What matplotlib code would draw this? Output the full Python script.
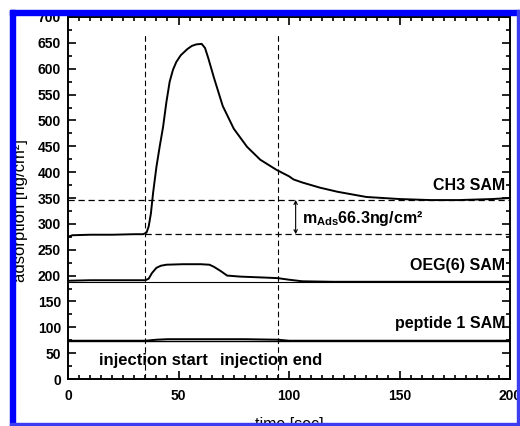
import matplotlib
matplotlib.use("Agg")
import matplotlib.pyplot as plt
from matplotlib.patches import Rectangle

plt.rcParams['font.family'] = ['Liberation Sans', 'DejaVu Sans']
plt.rcParams['font.weight'] = 'bold'
plt.rcParams['mathtext.fontset'] = 'custom'
plt.rcParams['mathtext.rm'] = 'Liberation Sans:bold'
plt.rcParams['mathtext.it'] = 'Liberation Sans:bold'

# CH3 SAM curve
ch3_t = [0, 2, 10, 20, 30, 34, 35.5, 36.5, 37.5, 38.5, 40, 41.5, 43, 44.5, 46, 47.5, 49, 51,
         54, 56, 58, 60.5, 62, 63.5, 66, 70, 75, 81, 87, 94.5, 100, 102, 106, 114, 122,
         135, 150, 164, 177, 192, 200]
ch3_y = [275, 278, 279, 279, 280, 280, 283, 295, 320, 360, 410, 450, 487, 535, 575, 598, 613, 626,
         638, 644, 647, 648, 640, 620, 583, 528, 484, 449, 424, 404, 392, 386, 380, 370, 362,
         352, 348, 346, 346, 348, 350]

# OEG(6) SAM curve
oeg_t = [0, 10, 30, 35, 36.5, 38, 40, 42, 44.5, 52, 60, 64, 66, 69, 72, 78, 84,
         90, 95, 100, 106, 120, 150, 200]
oeg_y = [190, 191, 191, 191, 194, 205, 215, 219, 221, 222, 222, 221, 217, 209, 200, 198, 197,
         196, 195, 192, 189, 188, 188, 188]
oeg_base = 187

# peptide 1 SAM curve
pep_t = [0, 35, 40, 45, 60, 80, 95, 100, 200]
pep_y = [74, 74, 76, 77, 77, 77, 76, 74, 74]
pep_base = 74

# markers
inj_start = 35
inj_end = 95
level_before = 280
level_after = 346.3
mads_text = r"m$_{\rm Ads}$66.3ng/cm²"

fig = plt.figure(figsize=(5.2, 4.26), dpi=100)
ax = fig.add_axes([0.1308, 0.1103, 0.85, 0.8498])

ax.plot(ch3_t, ch3_y, color="black", lw=1.4)
ax.plot(oeg_t, oeg_y, color="black", lw=1.4)
ax.axhline(oeg_base, color="black", lw=0.8)
ax.plot(pep_t, pep_y, color="black", lw=1.4)
ax.axhline(pep_base, color="black", lw=1.0)

# injection markers
for xv in [inj_start, inj_end]:
    ax.plot([xv, xv], [0, 670], color="black", lw=0.8, ls=(0, (5, 3)))
ax.axhline(level_after, color="black", lw=0.9, ls=(0, (5, 3)))
ax.plot([inj_start, 200], [level_before, level_before], color="black", lw=0.9, ls=(0, (5, 3)))

ax.annotate("", xy=(103, level_after), xytext=(103, level_before),
            arrowprops=dict(arrowstyle="<->", color="black", lw=0.8,
                            shrinkA=0, shrinkB=0, mutation_scale=6))
ax.text(106, 311, mads_text, fontsize=11.5, va="center", ha="left")

ax.text(198, 375, "CH3 SAM", fontsize=11.5, ha="right", va="center")
ax.text(198, 220, "OEG(6) SAM", fontsize=11.5, ha="right", va="center")
ax.text(198, 108, "peptide 1 SAM", fontsize=11.5, ha="right", va="center")
ax.text(38.5, 35, "injection start", fontsize=12, ha="center", va="center")
ax.text(92, 35, "injection end", fontsize=12, ha="center", va="center")

ax.set_xlim(0, 200)
ax.set_ylim(0, 700)
ax.set_xticks(range(0, 201, 50))
ax.set_xticks(range(0, 201, 5), minor=True)
ax.set_yticks(range(0, 701, 50))
ax.set_yticks(range(0, 701, 25), minor=True)
ax.tick_params(which="both", direction="in", top=True, right=True, width=1.2)
ax.tick_params(which="major", length=6, labelsize=10)
ax.tick_params(which="minor", length=3)
ax.tick_params(axis="y", pad=5)
ax.tick_params(axis="x", pad=7)
for sp in ax.spines.values():
    sp.set_linewidth(1.4)

ax.set_xlabel("time [sec]", fontsize=11.5)
ax.set_ylabel("adsorption [ng/cm²]", fontsize=12)
ax.xaxis.set_label_coords(0.5, -0.105)
ax.yaxis.set_label_coords(-0.09, 0.464)

# blue frame around the figure
W, H = 520, 426
def px_rect(x0, y0, x1, y1, color):
    fig.patches.append(Rectangle((x0 / W, 1 - y1 / H), (x1 - x0) / W, (y1 - y0) / H,
                                 transform=fig.transFigure, color=color, zorder=10))
px_rect(10, 10, 15, 426, "#0000ff")
px_rect(10, 10, 520, 15, "#0000ff")
px_rect(517, 10, 519, 426, "#3c3cf0")
px_rect(10, 423, 520, 425, "#3c3cf0")

fig.savefig("out.png", dpi=100)
